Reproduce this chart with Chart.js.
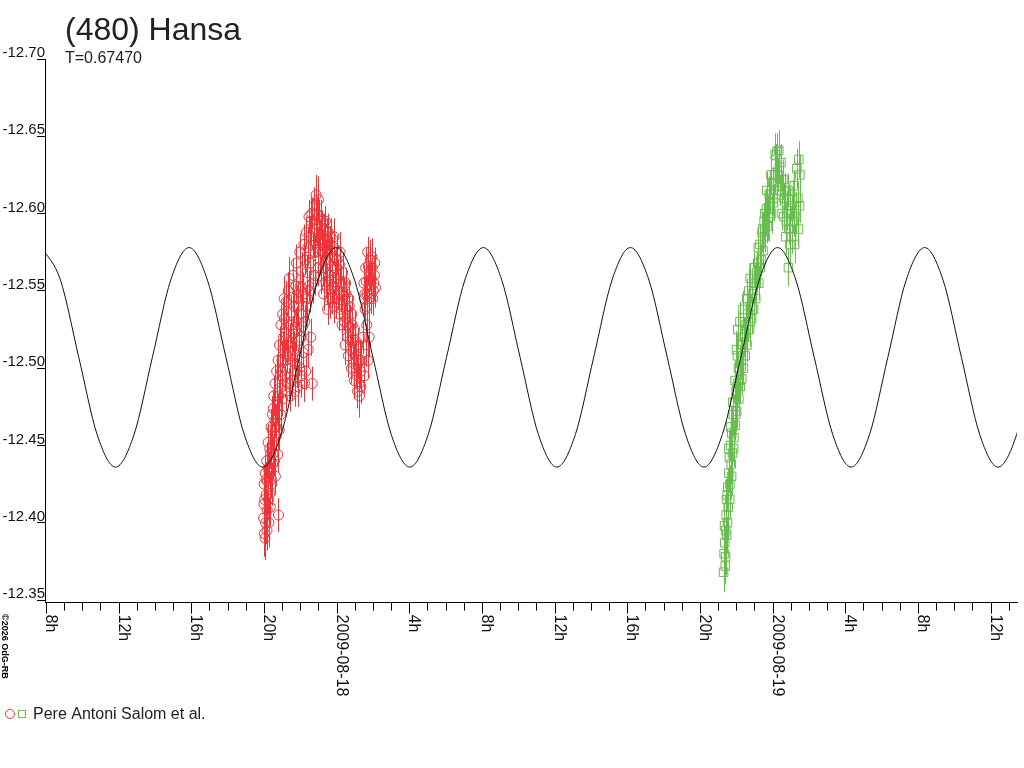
<!DOCTYPE html>
<html>
<head>
<meta charset="utf-8">
<title>(480) Hansa</title>
<script src="https://cdn.jsdelivr.net/npm/chart.js@4.4.1/dist/chart.umd.min.js"></script>
<style>
  html, body { margin: 0; padding: 0; background: #fff; }
  canvas { display: block; }
</style>
</head>
<body>
<canvas id="curva" width="1024" height="768"></canvas>
<script>
// horas contadas a partir de 2009-08-18 00:00 UT
const titulo = '(480) Hansa';
const subtitulo = 'T=0.67470';
const legenda = 'Pere Antoni Salom et al.';
const copyright = '\u00a92026 OdG-RB';

// 1a noite (circulos vermelhos)
const redHours = [-4.02,-3.99,-3.97,-3.96,-3.93,-3.91,-3.88,-3.85,-3.82,-3.80,
  -3.77,-3.73,-3.70,-3.67,-3.63,-3.59,-3.55,-3.52,-3.48,-3.44,
  -3.40,-3.37,-3.32,-3.27,-3.24,-3.20,-3.16,-3.11,-3.08,-3.03,
  -2.98,-2.94,-2.89,-2.85,-2.81,-2.77,-2.72,-2.68,-2.64,-2.61,
  -2.56,-2.52,-2.47,-2.42,-2.38,-2.33,-2.28,-2.24,-2.19,-2.14,
  -2.10,-2.05,-2.01,-1.97,-1.92,-1.87,-1.83,-1.77,-1.72,-1.68,
  -1.63,-1.58,-1.54,-1.49,-1.44,-1.40,-1.34,-1.29,-1.25,-1.20,
  -1.14,-1.10,-1.05,-1.00,-0.95,-0.90,-0.85,-0.80,-0.75,-0.70,
  -0.65,-0.59,-0.55,-0.50,-0.44,-0.39,-0.34,-0.28,-0.23,-0.17,
  -0.12,-0.06,0.00,0.05,0.11,0.16,0.22,0.28,0.33,0.39,
  0.44,0.50,0.56,0.61,0.67,0.72,0.78,0.84,0.89,0.95,
  1.00,1.06,1.12,1.17,1.23,1.28,1.34,1.52,1.57,1.63,
  1.68,1.74,1.80,1.85,1.91,1.96,2.02,2.08,
  -4.00,-3.94,-3.89,-3.83,-3.78,-3.75,-3.68,-3.65,-3.61,-3.57,
  -3.53,-3.50,-3.46,-3.42,-3.39,-3.35,-3.30,-3.25,-3.22,-3.18,
  -3.14,-3.10,-3.06,-3.01,-2.97,-2.92,-2.87,-2.83,
  -2.79,-2.70,-2.66,-2.59,-2.54,-2.50,-2.45,-2.40,-2.36,-2.31,
  -2.26,-2.22,-2.17,-2.12,-2.08,-2.03,-1.98,-1.94,-1.89,-1.84,
  -1.80,-1.75,-1.70,-1.66,-1.61,-1.56,-1.52,-1.47,-1.42,-1.37,
  -1.32,-1.27,-1.23,
  -1.17,-1.13,-1.08,-1.02,-0.98,-0.92,-0.87,-0.83,-0.77,-0.72,
  -0.68,-0.62,-0.56,-0.52,-0.47,-0.42,-0.36,-0.31,-0.26,-0.20,
  -0.14,-0.09,-0.03,0.02,0.08,0.14,0.19,0.25,0.30,
  0.36,0.42,0.47,0.53,0.58,0.64,0.70,0.75,0.81,0.86,
  0.92,0.98,1.03,1.09,1.15,1.20,1.26,1.31,
  1.50,1.55,1.60,1.66,1.71,1.77,1.82,1.88,1.94,1.99,
  2.05,2.10,2.14,
  1.37,1.45,1.52,1.60,1.66,1.73,1.79];
const redMag = [-12.403,-12.425,-12.393,-12.415,-12.432,-12.400,-12.418,-12.440,-12.408,-12.427,
  -12.452,-12.400,-12.436,-12.419,-12.445,-12.428,-12.460,-12.438,-12.474,-12.452,
  -12.466,-12.430,-12.456,-12.478,-12.444,-12.405,-12.460,-12.487,-12.470,-12.498,
  -12.480,-12.512,-12.545,-12.495,-12.523,-12.543,-12.508,-12.528,-12.490,-12.558,
  -12.517,-12.536,-12.505,-12.546,-12.522,-12.540,-12.503,-12.553,-12.530,-12.488,
  -12.545,-12.518,-12.553,-12.535,-12.563,-12.527,-12.548,-12.490,-12.570,-12.540,
  -12.562,-12.578,-12.553,-12.585,-12.568,-12.595,-12.490,-12.575,-12.582,-12.560,
  -12.593,-12.600,-12.578,-12.609,-12.588,-12.570,-12.596,-12.580,-12.565,-12.590,
  -12.574,-12.556,-12.585,-12.538,-12.568,-12.580,-12.557,-12.572,-12.545,-12.578,
  -12.540,-12.565,-12.576,-12.550,-12.542,-12.567,-12.555,-12.538,-12.562,-12.547,
  -12.530,-12.555,-12.538,-12.520,-12.545,-12.527,-12.512,-12.535,-12.518,-12.503,
  -12.525,-12.508,-12.495,-12.515,-12.490,-12.505,-12.488,-12.545,-12.538,-12.556,
  -12.548,-12.566,-12.553,-12.570,-12.558,-12.565,-12.550,-12.560,
  -12.412,-12.390,-12.428,-12.395,-12.435,-12.415,-12.448,-12.410,-12.462,-12.425,
  -12.470,-12.445,-12.482,-12.440,-12.490,-12.462,-12.498,-12.470,-12.505,-12.482,
  -12.515,-12.495,-12.528,-12.505,-12.535,-12.520,-12.532,-12.505,
  -12.485,-12.515,-12.550,-12.500,-12.482,-12.528,-12.492,-12.560,-12.512,-12.485,
  -12.525,-12.568,-12.498,-12.540,-12.505,-12.575,-12.520,-12.495,-12.552,-12.510,
  -12.580,-12.530,-12.498,-12.588,-12.545,-12.512,-12.598,-12.550,-12.520,-12.600,
  -12.555,-12.590,-12.605,
  -12.575,-12.612,-12.590,-12.565,-12.598,-12.582,-12.560,-12.592,-12.575,-12.548,
  -12.583,-12.595,-12.570,-12.552,-12.588,-12.560,-12.545,-12.585,-12.566,-12.552,
  -12.585,-12.558,-12.545,-12.570,-12.558,-12.535,-12.575,-12.548,-12.528,
  -12.555,-12.535,-12.515,-12.548,-12.528,-12.508,-12.540,-12.518,-12.500,-12.528,
  -12.510,-12.492,-12.518,-12.500,-12.485,-12.505,-12.482,-12.498,
  -12.555,-12.548,-12.565,-12.540,-12.575,-12.545,-12.562,-12.548,-12.572,-12.545,
  -12.555,-12.568,-12.552,
  -12.505,-12.520,-12.495,-12.515,-12.528,-12.505,-12.520];
const redErr = [0.013,0.010,0.015,0.011,0.012,0.014,0.010,0.012,0.013,0.011,
  0.012,0.016,0.010,0.013,0.011,0.012,0.014,0.010,0.012,0.013,
  0.011,0.012,0.010,0.014,0.012,0.011,0.013,0.010,0.012,0.015,
  0.011,0.012,0.014,0.010,0.012,0.013,0.011,0.012,0.010,0.014,
  0.012,0.011,0.013,0.010,0.012,0.011,0.014,0.012,0.010,0.013,
  0.011,0.012,0.010,0.013,0.012,0.011,0.014,0.012,0.010,0.013,
  0.011,0.012,0.010,0.013,0.012,0.016,0.011,0.012,0.010,0.013,
  0.012,0.011,0.013,0.015,0.012,0.010,0.013,0.011,0.012,0.010,
  0.013,0.011,0.012,0.010,0.014,0.012,0.011,0.013,0.010,0.012,
  0.011,0.013,0.010,0.012,0.011,0.014,0.012,0.010,0.013,0.011,
  0.012,0.010,0.013,0.011,0.012,0.014,0.010,0.012,0.011,0.013,
  0.012,0.010,0.014,0.011,0.012,0.013,0.011,0.012,0.010,0.013,
  0.011,0.012,0.014,0.013,0.011,0.012,0.010,0.013,
  0.012,0.014,0.011,0.013,0.012,0.010,0.013,0.012,0.011,0.014,
  0.012,0.011,0.013,0.010,0.012,0.014,0.011,0.012,0.013,0.010,
  0.012,0.011,0.013,0.012,0.010,0.014,0.011,0.012,
  0.013,0.011,0.012,0.014,0.010,0.012,0.013,0.011,0.012,0.010,
  0.014,0.012,0.011,0.013,0.010,0.012,0.011,0.014,0.012,0.010,
  0.013,0.011,0.012,0.010,0.013,0.012,0.011,0.014,0.012,0.010,
  0.013,0.011,0.012,
  0.011,0.013,0.010,0.012,0.011,0.013,0.012,0.010,0.014,0.011,
  0.012,0.010,0.013,0.011,0.012,0.010,0.013,0.012,0.011,0.010,
  0.012,0.011,0.013,0.010,0.012,0.011,0.013,0.012,0.010,
  0.012,0.011,0.013,0.010,0.012,0.014,0.011,0.012,0.010,0.013,
  0.011,0.012,0.010,0.013,0.011,0.012,0.014,0.011,
  0.012,0.011,0.013,0.012,0.010,0.012,0.011,0.013,0.012,0.011,
  0.012,0.010,0.013,
  0.013,0.011,0.012,0.014,0.011,0.012,0.013];

// 2a noite (quadrados verdes)
const greenHours = [21.30,21.33,21.36,21.39,21.42,21.44,21.47,21.50,21.53,21.56,
  21.59,21.62,21.65,21.68,21.72,21.75,21.79,21.83,21.87,21.91,
  21.95,21.99,22.02,22.06,22.10,22.14,22.18,22.22,22.26,22.30,
  22.34,22.39,22.44,22.49,22.54,22.59,22.63,22.68,22.73,22.78,
  22.84,22.89,22.95,23.01,23.07,23.13,23.18,23.24,23.30,23.36,
  23.42,23.47,23.53,23.59,23.65,23.71,23.76,23.82,23.88,23.94,
  24.00,24.05,24.11,24.17,24.23,24.29,24.34,24.40,24.46,24.52,
  24.57,24.63,24.69,24.75,24.81,24.87,24.92,24.98,25.04,25.10,
  25.15,25.21,25.27,25.33,25.39,25.44,25.48,
  21.35,21.41,21.46,21.52,21.58,21.64,21.70,21.74,21.81,21.85,
  21.93,21.97,22.01,22.04,22.08,
  22.12,22.20,22.28,22.37,22.47,22.57,22.66,22.76,22.87,22.98,
  23.10,23.21,23.33,23.45,23.56,
  23.68,23.79,23.91,24.02,24.14,24.26,24.37,24.49,24.60,24.72,
  24.84,24.95,25.07,25.18,25.30,25.42,25.50];
const greenMag = [-12.368,-12.380,-12.387,-12.372,-12.395,-12.405,-12.392,-12.418,-12.423,-12.410,
  -12.432,-12.442,-12.425,-12.450,-12.438,-12.458,-12.445,-12.470,-12.455,-12.478,
  -12.463,-12.485,-12.472,-12.508,-12.490,-12.480,-12.498,-12.488,-12.505,-12.493,
  -12.515,-12.500,-12.520,-12.508,-12.528,-12.515,-12.535,-12.550,-12.525,-12.540,
  -12.532,-12.548,-12.538,-12.555,-12.545,-12.562,-12.568,-12.555,-12.580,-12.570,
  -12.588,-12.576,-12.595,-12.585,-12.603,-12.592,-12.597,-12.612,-12.613,-12.600,
  -12.620,-12.607,-12.625,-12.632,-12.640,-12.625,-12.641,-12.615,-12.633,-12.600,
  -12.622,-12.610,-12.614,-12.595,-12.602,-12.565,-12.590,-12.605,-12.585,-12.609,
  -12.595,-12.580,-12.598,-12.629,-12.610,-12.635,-12.605,
  -12.398,-12.378,-12.415,-12.400,-12.448,-12.415,-12.462,-12.430,-12.478,-12.448,
  -12.492,-12.470,-12.512,-12.488,-12.525,
  -12.500,-12.530,-12.510,-12.538,-12.522,-12.545,-12.530,-12.558,-12.545,-12.565,
  -12.555,-12.578,-12.565,-12.590,-12.600,
  -12.615,-12.598,-12.625,-12.610,-12.638,-12.618,-12.630,-12.612,-12.598,-12.585,
  -12.615,-12.580,-12.600,-12.618,-12.602,-12.590,-12.625];
const greenErr = [0.013,0.012,0.011,0.012,0.010,0.013,0.012,0.011,0.012,0.010,
  0.013,0.011,0.012,0.010,0.013,0.011,0.012,0.014,0.011,0.012,
  0.010,0.013,0.011,0.014,0.012,0.010,0.013,0.011,0.012,0.010,
  0.013,0.011,0.012,0.010,0.013,0.011,0.012,0.014,0.011,0.012,
  0.010,0.013,0.011,0.012,0.010,0.013,0.012,0.011,0.012,0.010,
  0.013,0.011,0.012,0.010,0.013,0.011,0.014,0.012,0.011,0.013,
  0.010,0.012,0.011,0.013,0.012,0.011,0.013,0.010,0.012,0.011,
  0.013,0.010,0.012,0.011,0.013,0.012,0.010,0.012,0.011,0.013,
  0.010,0.012,0.011,0.013,0.010,0.012,0.011,
  0.014,0.012,0.013,0.011,0.012,0.010,0.013,0.012,0.011,0.012,
  0.013,0.011,0.012,0.010,0.012,
  0.011,0.013,0.010,0.012,0.011,0.013,0.012,0.010,0.012,0.011,
  0.013,0.010,0.012,0.011,0.013,
  0.012,0.010,0.013,0.011,0.014,0.012,0.011,0.013,0.010,0.012,
  0.011,0.013,0.012,0.010,0.012,0.011,0.013];

// curva ajustada
const fitHours = [-16.21,-15.20,-14.19,-13.18,-12.17,-11.15,-10.14,-9.13,-8.12,-7.11,
  -6.09,-5.08,-4.07,-3.06,-2.05,-1.03,-0.02,0.99,2.00,3.01,
  4.03,5.04,6.05,7.06,8.08,9.09,10.10,11.11,12.12,13.14,
  14.15,15.16,16.17,17.19,18.20,19.21,20.22,21.23,22.25,23.26,
  24.27,25.28,26.29,27.31,28.32,29.33,30.34,31.35,32.37,33.38,
  34.39,35.40,36.41,37.43,38.44];
const fitMag = [-12.578,-12.557,-12.507,-12.457,-12.436,-12.457,-12.507,-12.557,
  -12.578,-12.557,-12.507,-12.457,-12.436,-12.457,-12.507,-12.557,
  -12.578,-12.557,-12.507,-12.457,-12.436,-12.457,-12.507,-12.557,
  -12.578,-12.557,-12.507,-12.457,-12.436,-12.457,-12.507,-12.557,
  -12.578,-12.557,-12.507,-12.457,-12.436,-12.457,-12.507,-12.557,
  -12.578,-12.557,-12.507,-12.457,-12.436,-12.457,-12.507,-12.557,
  -12.578,-12.557,-12.507,-12.457,-12.436,-12.457,-12.507];

const yTicks = [-12.70, -12.65, -12.60, -12.55, -12.50, -12.45, -12.40, -12.35];
const xTickHours = [-16, -12, -8, -4, 0, 4, 8, 12, 16, 20, 24, 28, 32, 36];
const xTickLabels = ['8h', '12h', '16h', '20h', '2009-08-18', '4h', '8h', '12h', '16h', '20h', '2009-08-19', '4h', '8h', '12h'];

const corVermelho = '#ee3339';
const corVerde = '#67bd4e';
const fonte = '"Liberation Sans", Arial, sans-serif';

const pontos = (h, m) => h.map((t, i) => ({ x: t, y: m[i] }));

const barrasErro = {
  id: 'barrasErro',
  beforeDatasetsDraw(chart) {
    const { ctx, chartArea: a, scales: { x, y } } = chart;
    ctx.save();
    ctx.beginPath();
    ctx.rect(a.left, a.top, a.right - a.left, a.bottom - a.top);
    ctx.clip();
    ctx.lineWidth = 1;
    [[redHours, redMag, redErr, corVermelho], [greenHours, greenMag, greenErr, corVerde]].forEach(([h, m, e, cor]) => {
      ctx.strokeStyle = cor;
      ctx.beginPath();
      h.forEach((t, i) => {
        const px = Math.round(x.getPixelForValue(t)) + 0.5;
        ctx.moveTo(px, y.getPixelForValue(m[i] - e[i]));
        ctx.lineTo(px, y.getPixelForValue(m[i] + e[i]));
      });
      ctx.stroke();
    });
    ctx.restore();
  }
};

const textos = {
  id: 'textos',
  afterDraw(chart) {
    const { ctx, chartArea: a, scales: { x } } = chart;
    ctx.save();
    ctx.textAlign = 'left';
    ctx.textBaseline = 'alphabetic';
    ctx.fillStyle = '#222';
    ctx.font = '32px ' + fonte;
    ctx.fillText(titulo, 65, 40);
    ctx.font = '16px ' + fonte;
    ctx.fillText(subtitulo, 65, 63);

    // marcas do eixo x, uma por hora
    ctx.strokeStyle = '#000';
    ctx.lineWidth = 1;
    ctx.fillStyle = '#111';
    for (let h = Math.ceil(x.min); h <= x.max; h++) {
      const px = Math.round(x.getPixelForValue(h)) + 0.5;
      const k = xTickHours.indexOf(h);
      ctx.beginPath();
      ctx.moveTo(px, a.bottom);
      ctx.lineTo(px, a.bottom + (k >= 0 ? 11 : 8));
      ctx.stroke();
      if (k >= 0) {
        ctx.save();
        ctx.translate(px - 0.5, a.bottom + 12);
        ctx.rotate(Math.PI / 2);
        ctx.fillText(xTickLabels[k], 0, 0);
        ctx.restore();
      }
    }

    // legenda
    ctx.lineWidth = 1;
    ctx.strokeStyle = corVermelho;
    ctx.beginPath();
    ctx.arc(10, 714, 4.5, 0, Math.PI * 2);
    ctx.stroke();
    ctx.strokeStyle = corVerde;
    ctx.strokeRect(18.5, 710.5, 7, 7);
    ctx.fillStyle = '#222';
    ctx.font = '16px ' + fonte;
    ctx.fillText(legenda, 33, 719);

    ctx.save();
    ctx.translate(1.5, 614);
    ctx.rotate(Math.PI / 2);
    ctx.font = 'bold 9px ' + fonte;
    ctx.fillStyle = '#000';
    ctx.fillText(copyright, 0, 0);
    ctx.restore();
    ctx.restore();
  }
};

new Chart(document.getElementById('curva'), {
  type: 'scatter',
  data: {
    datasets: [
      {
        type: 'line',
        label: 'ajuste',
        data: pontos(fitHours, fitMag),
        borderColor: '#111',
        borderWidth: 1,
        pointRadius: 0,
        fill: false,
        cubicInterpolationMode: 'monotone',
        order: 0
      },
      {
        label: legenda,
        data: pontos(redHours, redMag),
        pointStyle: 'circle',
        pointRadius: 5,
        borderWidth: 1,
        borderColor: corVermelho,
        backgroundColor: 'rgba(0,0,0,0)',
        order: 1
      },
      {
        label: legenda,
        data: pontos(greenHours, greenMag),
        pointStyle: 'rect',
        pointRadius: 6,
        borderWidth: 1,
        borderColor: corVerde,
        backgroundColor: 'rgba(0,0,0,0)',
        order: 2
      }
    ]
  },
  options: {
    responsive: false,
    animation: false,
    events: [],
    layout: { padding: { top: 59, right: 1, left: 0, bottom: 0 } },
    plugins: {
      legend: { display: false },
      title: { display: false },
      tooltip: { enabled: false }
    },
    scales: {
      x: {
        type: 'linear',
        min: -16.05,
        max: 37.45,
        grid: { display: false },
        border: { display: true, color: '#000', width: 1 },
        ticks: { display: false },
        afterFit(s) { s.height = 165.5; }
      },
      y: {
        type: 'linear',
        reverse: true,
        min: -12.70,
        max: -12.3484,
        border: { display: true, color: '#000', width: 1 },
        grid: { drawOnChartArea: false, drawTicks: true, tickLength: 8, color: '#000' },
        ticks: {
          color: '#111',
          font: { family: fonte, size: 15 },
          padding: -8,
          labelOffset: -6,
          callback: v => v.toFixed(2)
        },
        afterBuildTicks(s) { s.ticks = yTicks.map(v => ({ value: v })); },
        afterFit(s) { s.width = 45; }
      }
    }
  },
  plugins: [barrasErro, textos]
});
</script>
</body>
</html>
